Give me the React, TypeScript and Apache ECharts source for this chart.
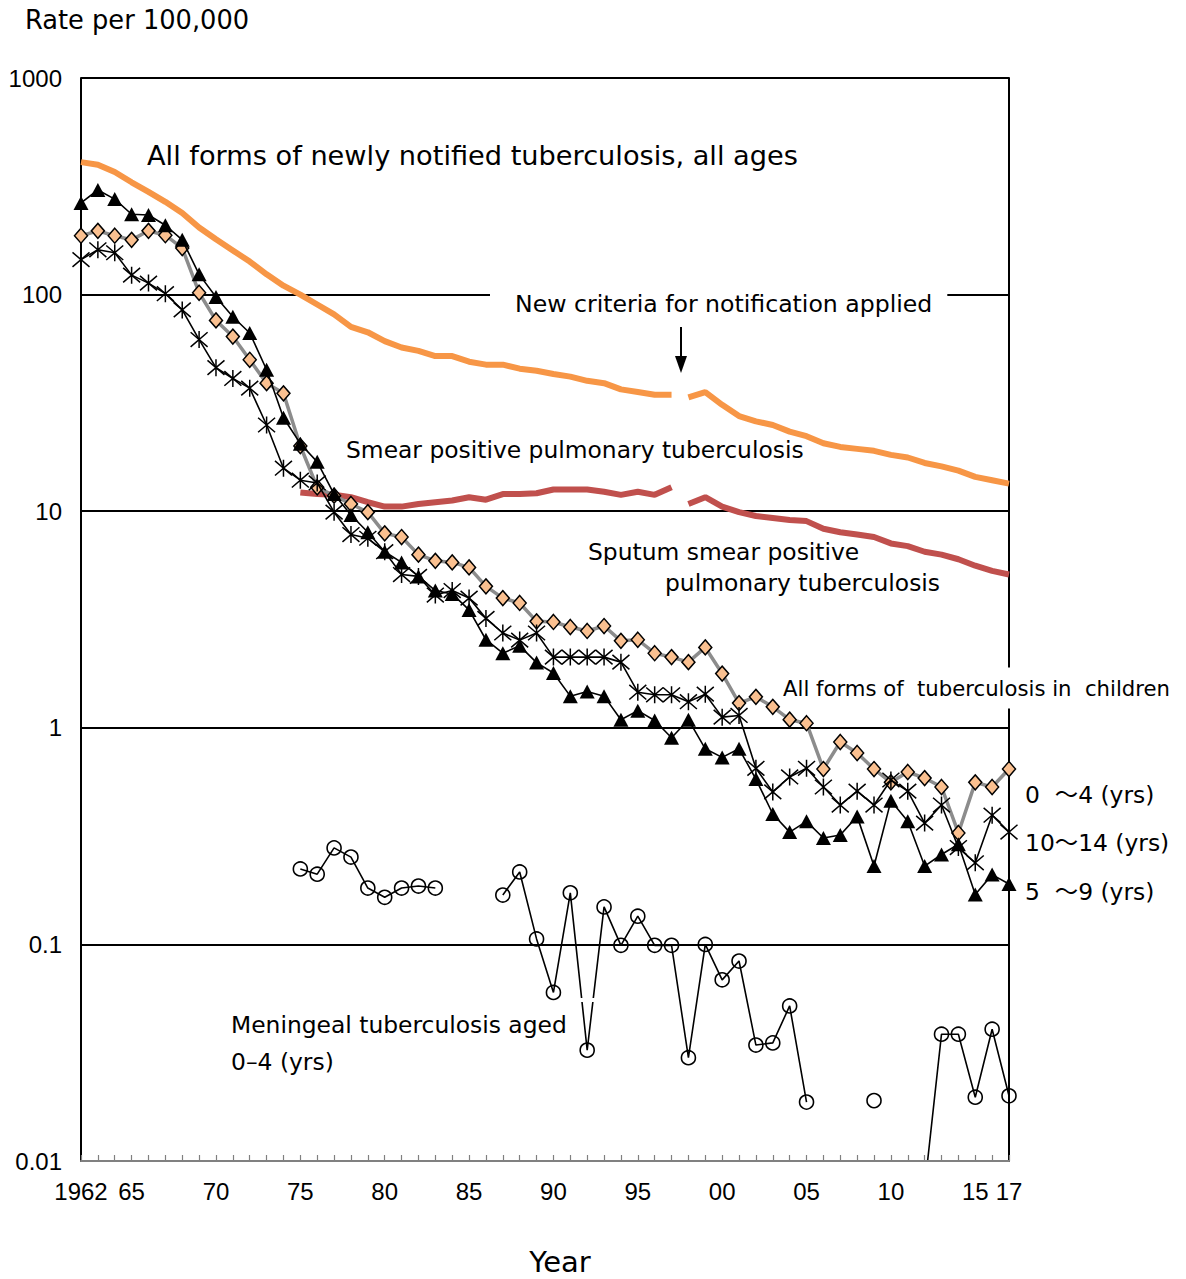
import React, { useEffect, useRef } from 'react';
import * as echarts from 'echarts';

const years = [
  '1962','1963','1964','1965','1966','1967','1968','1969','1970','1971',
  '1972','1973','1974','1975','1976','1977','1978','1979','1980','1981',
  '1982','1983','1984','1985','1986','1987','1988','1989','1990','1991',
  '1992','1993','1994','1995','1996','1997','1998','1999','2000','2001',
  '2002','2003','2004','2005','2006','2007','2008','2009','2010','2011',
  '2012','2013','2014','2015','2016','2017',
];

const xTickLabels: Record<string, string> = {
  '1962': '1962', '1965': '65', '1970': '70', '1975': '75', '1980': '80',
  '1985': '85', '1990': '90', '1995': '95', '2000': '00', '2005': '05',
  '2010': '10', '2015': '15', '2017': '17',
};

const yTickLabels = ['0.01', '0.1', '1', '10', '100', '1000'];

const N = null;

// All forms of newly notified tuberculosis, all ages (old criteria, to 1997)
const allFormsOld = [
  409, 398, 368, 330, 298, 268, 238, 204, 180, 160,
  142, 124, 110, 100, 90, 81, 71, 67, 61, 57,
  55, 52, 52, 49, 47.5, 47.5, 45.5, 44.5, 43, 41.8,
  40, 39, 36.5, 35.5, 34.5, 34.5, N, N, N, N,
  N, N, N, N, N, N, N, N, N, N,
  N, N, N, N, N, N,
];
// new criteria, from 1998
const allFormsNew = [
  N, N, N, N, N, N, N, N, N, N,
  N, N, N, N, N, N, N, N, N, N,
  N, N, N, N, N, N, N, N, N, N,
  N, N, N, N, N, N, 33.5, 35.5, 31.0, 27.5,
  26, 25, 23.3, 22.2, 20.6, 19.8, 19.4, 19.0, 18.2, 17.7,
  16.7, 16.1, 15.4, 14.4, 13.9, 13.4,
];
// Smear positive pulmonary tuberculosis
const smearOld = [
  N, N, N, N, N, N, N, N, N, N,
  N, N, N, 12.2, 12.0, 11.9, 11.6, 11.0, 10.5, 10.5,
  10.8, 11.0, 11.2, 11.6, 11.3, 12.0, 12.0, 12.1, 12.6, 12.6,
  12.6, 12.3, 11.9, 12.3, 11.9, 12.9, N, N, N, N,
  N, N, N, N, N, N, N, N, N, N,
  N, N, N, N, N, N,
];
// Sputum smear positive pulmonary tuberculosis
const smearNew = [
  N, N, N, N, N, N, N, N, N, N,
  N, N, N, N, N, N, N, N, N, N,
  N, N, N, N, N, N, N, N, N, N,
  N, N, N, N, N, N, 10.8, 11.6, 10.5, 9.9,
  9.5, 9.3, 9.1, 9.0, 8.3, 8.0, 7.8, 7.6, 7.1, 6.9,
  6.5, 6.3, 6.0, 5.6, 5.3, 5.1,
];
// Children 0-4
const age0to4 = [
  187, 197, 187, 179, 197, 188, 164, 102, 76, 64,
  50, 39, 35, 20, 12.9, 11.8, 10.8, 9.9, 7.9, 7.6,
  6.3, 5.9, 5.8, 5.5, 4.5, 3.97, 3.77, 3.1, 3.08, 2.92,
  2.8, 2.95, 2.52, 2.55, 2.21, 2.12, 2.01, 2.35, 1.78, 1.30,
  1.39, 1.25, 1.09, 1.05, 0.645, 0.86, 0.765, 0.645, 0.56, 0.625,
  0.586, 0.533, 0.327, 0.56, 0.533, 0.645,
];
// Children 5-9
const age5to9 = [
  265, 304, 276, 235, 233, 209, 179, 124, 97.5, 79,
  66.5, 45, 27, 20.5, 16.9, 12.0, 9.6, 8.0, 6.5, 5.8,
  5.0, 4.3, 4.15, 3.5, 2.55, 2.21, 2.39, 2.0, 1.79, 1.40,
  1.47, 1.40, 1.09, 1.20, 1.08, 0.90, 1.09, 0.80, 0.73, 0.80,
  0.58, 0.40, 0.33, 0.37, 0.31, 0.32, 0.39, 0.23, 0.46, 0.37,
  0.23, 0.26, 0.29, 0.17, 0.21, 0.19,
];
// Children 10-14
const age10to14 = [
  145, 161, 156, 123, 113, 101, 85, 62, 46, 41,
  37, 25, 15.8, 13.9, 13.5, 9.9, 7.8, 7.5, 6.5, 5.1,
  5.0, 4.1, 4.3, 3.97, 3.2, 2.74, 2.54, 2.74, 2.12, 2.12,
  2.12, 2.12, 2.01, 1.46, 1.42, 1.42, 1.32, 1.43, 1.12, 1.14,
  0.65, 0.506, 0.593, 0.65, 0.533, 0.44, 0.51, 0.44, 0.574, 0.51,
  0.363, 0.44, 0.28, 0.238, 0.395, 0.33,
];
// Meningeal tuberculosis aged 0-4
const meningeal = [
  N, N, N, N, N, N, N, N, N, N,
  N, N, N, 0.223, 0.211, 0.279, 0.253, 0.182, 0.165, 0.182,
  0.186, 0.182, N, N, N, 0.169, 0.216, 0.106, 0.060, 0.173,
  0.0325, 0.149, 0.099, 0.135, 0.099, 0.099, 0.030, 0.10, 0.0686, 0.0838,
  0.0343, 0.0351, 0.052, 0.0187, N, N, N, 0.019, N, N,
  0.0075, 0.0385, 0.0385, 0.0197, 0.0406, 0.020,
];

const TXT = '"DejaVu Sans", "Noto Sans CJK JP", sans-serif';
const NUM = '"Liberation Sans", Arial, sans-serif';

const ASTERISK = 'path://M0,1L14,13M14,1L0,13M7,0L7,14';

function txt(text: string, x: number, y: number, size: number, extra: any = {}) {
  return {
    type: 'text',
    x,
    y,
    z: 100,
    silent: true,
    style: {
      text,
      font: `${size}px ${TXT}`,
      fill: '#000',
      align: 'left',
      verticalAlign: 'middle',
      textAlign: 'left',
      textVerticalAlign: 'middle',
      ...extra,
    },
  };
}

export default function App() {
  const ref = useRef<HTMLDivElement>(null);

  useEffect(() => {
    if (!ref.current) return;
    const chart = echarts.init(ref.current, null, { renderer: 'svg' });

    const thinLine = (name: string, data: any[], symbol: any, symbolSize: any, itemStyle: any, z: number, lineColor = '#000', lineWidth = 1.6) => ({
      name,
      type: 'line',
      data,
      symbol,
      symbolSize,
      showAllSymbol: true,
      connectNulls: false,
      clip: true,
      z,
      lineStyle: { color: lineColor, width: lineWidth },
      itemStyle,
      emphasis: { disabled: true },
    });

    const thick = (name: string, data: any[], color: string, z: number) => ({
      name,
      type: 'line',
      data,
      symbol: 'none',
      connectNulls: false,
      z,
      lineStyle: { color, width: 6 },
      emphasis: { disabled: true },
    });

    chart.setOption({
      animation: false,
      grid: { left: 81, right: 177, top: 78, bottom: 118, containLabel: false },
      xAxis: {
        type: 'category',
        data: years,
        boundaryGap: false,
        z: 5,
        axisLine: { show: true, lineStyle: { color: '#808080', width: 2 } },
        axisTick: { show: true, inside: true, interval: 0, length: 6, lineStyle: { color: '#808080', width: 1.2 } },
        axisLabel: {
          interval: 0,
          margin: 18,
          color: '#000',
          fontFamily: NUM,
          fontSize: 24,
          formatter: (v: string) => xTickLabels[v] ?? '',
        },
        splitLine: { show: false },
      },
      yAxis: [
        {
          type: 'log',
          logBase: 10,
          min: 0.01,
          max: 1000,
          splitNumber: 5,
          axisLine: { show: true, lineStyle: { color: '#000', width: 2 } },
          axisTick: { show: false },
          axisLabel: {
            margin: 19,
            color: '#000',
            fontFamily: NUM,
            fontSize: 24,
            formatter: (v: number) => yTickLabels[Math.round(Math.log10(v)) + 2] ?? '',
          },
          splitLine: { show: true, lineStyle: { color: '#000', width: 1.8 } },
        },
        {
          type: 'log',
          logBase: 10,
          min: 0.01,
          max: 1000,
          position: 'right',
          axisLine: { show: true, onZero: false, lineStyle: { color: '#000', width: 2 } },
          axisTick: { show: false },
          axisLabel: { show: false },
          splitLine: { show: false },
        },
      ],
      series: [
        thick('All forms (old criteria)', allFormsOld, '#F79646', 2),
        thick('All forms (new criteria)', allFormsNew, '#F79646', 2),
        thick('Smear positive', smearOld, '#C0504D', 2),
        thick('Sputum smear positive', smearNew, '#C0504D', 2),
        thinLine('Meningeal 0-4', meningeal, 'circle', 14,
          { color: 'rgba(255,255,255,0)', borderColor: '#000', borderWidth: 1.6 }, 3),
        thinLine('0-4', age0to4, 'diamond', [13, 15],
          { color: '#FAC090', borderColor: '#000', borderWidth: 1.5 }, 4, '#8C8C8C', 3.5),
        thinLine('10-14', age10to14, ASTERISK, 17,
          { color: '#000', borderColor: '#000', borderWidth: 1.5 }, 5),
        thinLine('5-9', age5to9, 'triangle', [15, 14],
          { color: '#000', borderColor: '#000', borderWidth: 0 }, 6),
      ],
      graphic: [
        txt('Rate per 100,000', 25, 20, 25.7),
        txt('All forms of newly notified tuberculosis, all ages', 147, 155, 27.2),
        txt('New criteria for notification applied', 490, 304, 23.6,
          { backgroundColor: '#fff', padding: [6, 15, 6, 25] }),
        {
          type: 'line', z: 100, silent: true,
          shape: { x1: 681, y1: 327, x2: 681, y2: 362 },
          style: { stroke: '#000', lineWidth: 2 },
        },
        {
          type: 'polygon', z: 100, silent: true,
          shape: { points: [[675, 356], [687, 356], [681, 373]] },
          style: { fill: '#000' },
        },
        txt('Smear positive pulmonary tuberculosis', 346, 450, 23.4),
        txt('Sputum smear positive', 588, 552, 23.4),
        txt('pulmonary tuberculosis', 665, 583, 23.4),
        txt('All forms of  tuberculosis in  children', 781, 688, 21.2,
          { backgroundColor: '#fff', padding: [10, 4, 10, 2] }),
        txt('0  ～4 (yrs)', 1025, 795, 23.4),
        txt('10～14 (yrs)', 1025, 843, 23.4),
        txt('5  ～9 (yrs)', 1025, 892, 23.4),
        txt('Meningeal tuberculosis aged', 231, 1025, 23.4),
        txt('0–4 (yrs)', 231, 1062, 23.4),
        {
          type: 'rect', z: 100, silent: true,
          shape: { x: 579, y: 998, width: 17, height: 4 },
          style: { fill: '#fff' },
        },
        txt('Year', 560, 1262, 29, { align: 'center', textAlign: 'center' }),
      ],
    });

    return () => chart.dispose();
  }, []);

  return (
    <div
      ref={ref}
      style={{ position: 'absolute', left: 0, top: 0, width: 1186, height: 1279 }}
    />
  );
}
